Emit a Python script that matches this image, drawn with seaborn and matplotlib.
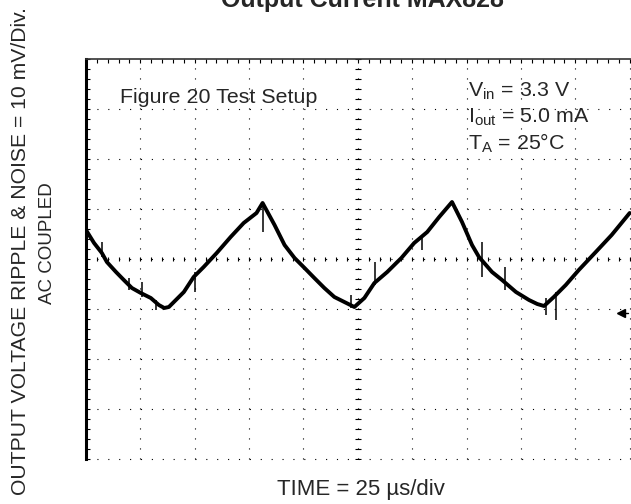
import numpy as np
import matplotlib
matplotlib.use("Agg")
import matplotlib.pyplot as plt
import seaborn as sns
from matplotlib.ticker import MultipleLocator

# scope trace: time in us, ripple in mV (AC coupled)
trace_t = [0.0, 3.7, 7.3, 9.6, 13.8, 17.4, 21.1, 25.2, 29.8, 33.5, 36.0, 38.1, 40.4,
           45.0, 49.5, 54.1, 60.1, 66.5, 72.5, 78.4, 81.2, 86.7, 91.3, 95.9,
           100.5, 105.0, 109.6, 114.2, 118.8, 123.4, 128.0, 132.6, 138.5, 145.0,
           150.9, 156.9, 162.4, 168.3, 172.9, 177.5, 180.7, 186.7, 191.3, 197.7,
           203.7, 207.5, 210.6, 215.1, 220.6, 226.6, 234.4, 241.7, 250.0]
trace_v = [5.8, 3.2, 1.2, -0.6, -2.6, -4.2, -5.8, -6.8, -7.8, -9.2, -9.8, -9.6, -8.6,
           -6.6, -3.6, -1.6, 1.2, 4.4, 7.2, 9.2, 11.2, 6.8, 2.8, 0.2,
           -1.8, -3.8, -5.8, -7.6, -8.6, -9.6, -7.8, -4.8, -2.6, 0.2,
           3.2, 5.4, 8.4, 11.4, 7.4, 2.8, 0.4, -2.6, -4.2, -6.6,
           -8.2, -9.0, -9.4, -7.6, -5.2, -2.2, 1.4, 4.8, 9.2]

# noise spikes on the trace
spike_t = [7.3, 19.7, 25.7, 32.1, 50.0, 81.2, 122.0, 133.0, 154.6, 182.1, 192.7, 211.5, 216.1]
spike_hi = [3.4, -3.8, -4.6, -8.2, -2.6, 11.2, -7.2, -0.6, 4.2, 3.4, -1.6, -7.8, -6.6]
spike_lo = [0.4, -6.2, -7.6, -10.2, -6.6, 5.4, -9.8, -5.2, 1.8, -3.6, -6.2, -11.2, -12.2]

# ground reference marker on the right edge
gnd_t = [246.0]
gnd_v = [-10.8]

sns.set_style("white")
plt.rcParams['font.family'] = ['Liberation Sans', 'DejaVu Sans']
plt.rcParams['mathtext.fontset'] = 'custom'
plt.rcParams['mathtext.rm'] = 'Liberation Sans'
plt.rcParams['mathtext.it'] = 'Liberation Sans'

W, H = 631, 504
fig = plt.figure(figsize=(W / 100, H / 100), dpi=100)
ax = fig.add_axes([86 / W, 1 - 459 / H, (W - 86) / W, 400 / H])
ax.set_xlim(0, 250.6)
ax.set_ylim(-40, 40)

# dotted graticule
for t in np.arange(25, 251, 25):
    ax.axvline(t, color='black', lw=0.8, linestyle=(0, (1, 8)), clip_on=False, zorder=1)
for v in np.arange(-40, 31, 10):
    ax.axhline(v, color='black', lw=0.8, linestyle=(0, (1, 8.8)), clip_on=False, zorder=1)

# center cross with subdivision marks
sub_t = np.arange(0, 251, 5)
sub_v = np.arange(-40, 41, 2)
ax.plot(sub_t, np.zeros_like(sub_t), linestyle='none', marker='|', ms=3, mew=0.8, color='black')
ax.plot(np.full_like(sub_v, 125), sub_v, linestyle='none', marker='_', ms=4, mew=0.8, color='black')

# trace
sns.lineplot(x=trace_t, y=trace_v, sort=False, estimator=None, color='black',
             lw=2.8, ax=ax, zorder=3)
ax.vlines(spike_t, spike_lo, spike_hi, color='black', lw=1.1, zorder=3)
ax.plot(gnd_t, gnd_v, marker='<', ms=6, color='black', linestyle='none')
ax.plot([gnd_t[0], gnd_t[0] + 3], [gnd_v[0], gnd_v[0]], color='black', lw=1)

# frame
for s in ['right', 'bottom']:
    ax.spines[s].set_visible(False)
ax.spines['left'].set_linewidth(2.2)
ax.spines['left'].set_color('black')
ax.spines['top'].set_linewidth(1.2)
ax.spines['top'].set_color('#333333')
ax.xaxis.set_major_locator(MultipleLocator(25))
ax.xaxis.set_minor_locator(MultipleLocator(5))
ax.yaxis.set_major_locator(MultipleLocator(10))
ax.yaxis.set_minor_locator(MultipleLocator(2))
ax.tick_params(which='both', direction='in', top=True, bottom=False, left=True,
               right=False, labelbottom=False, labelleft=False, length=3, width=0.8,
               color='black')

# texts
fig.text(362 / W, 1 - 7 / H, 'Output Current MAX828', ha='center', va='baseline',
         fontsize=18, fontweight='bold')
fig.text(120 / W, 1 - 103 / H, 'Figure 20 Test Setup', fontsize=15.4, va='baseline')
fig.text(468 / W, 1 - 97 / H, r'V$_{\mathrm{in}}$ = 3.3 V', fontsize=15.4, va='baseline')
fig.text(468 / W, 1 - 123 / H, r'I$_{\mathrm{out}}$ = 5.0 mA', fontsize=15.4, va='baseline')
fig.text(468 / W, 1 - 150 / H, r'T$_{\mathrm{A}}$ = 25°C', fontsize=15.4, va='baseline')
fig.text(21 / W, 1 - 251 / H, 'OUTPUT VOLTAGE RIPPLE & NOISE = 10 mV/Div.',
         rotation=90, ha='center', va='center', fontsize=15.2)
fig.text(47 / W, 1 - 243 / H, 'AC COUPLED', rotation=90, ha='center', va='center',
         fontsize=13.5)
fig.text(361 / W, 1 - 490 / H, 'TIME = 25 µs/div', ha='center', va='center',
         fontsize=16)

fig.savefig('out.png', dpi=100)
